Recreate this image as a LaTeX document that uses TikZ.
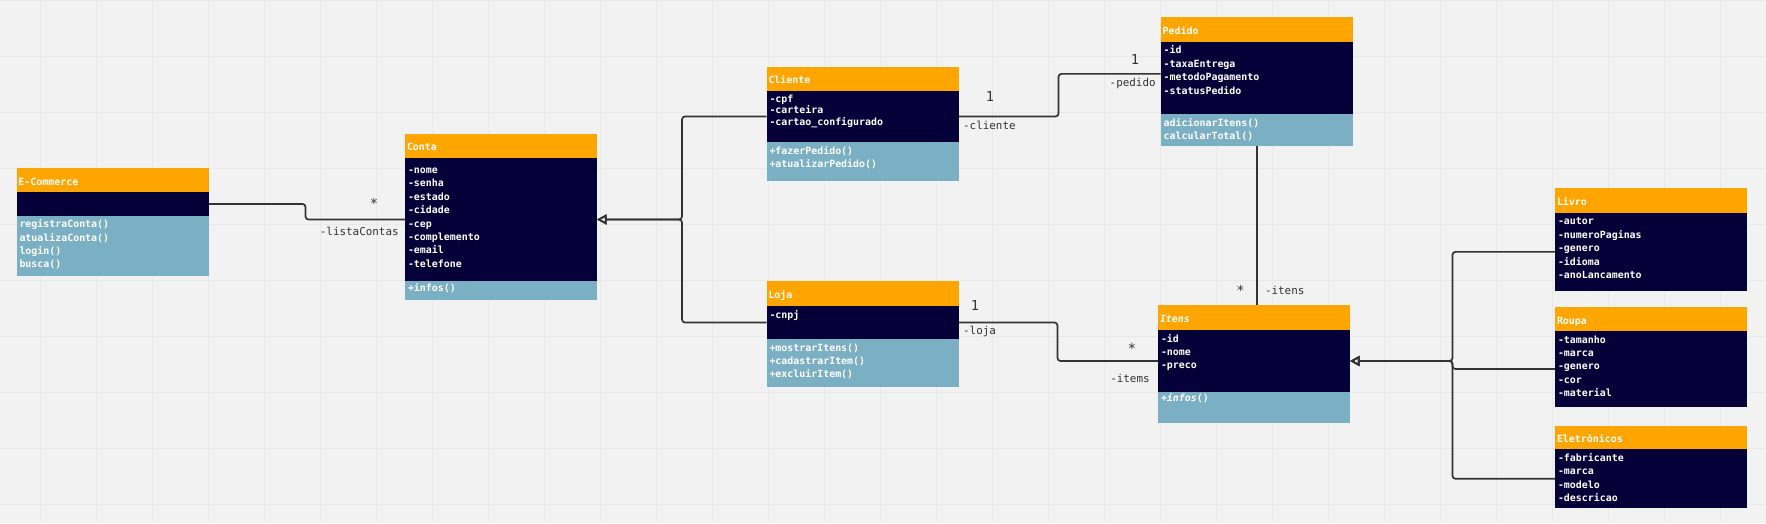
\documentclass[tikz,border=0pt]{standalone}
\usepackage{fontspec}
\usetikzlibrary{positioning, arrows.meta}
\newfontfamily\umlfont{DejaVu Sans Mono}
\newlength{\unitpx}
\setlength{\unitpx}{0.2mm}
\definecolor{headorange}{HTML}{FFA500}
\definecolor{attrnavy}{HTML}{050038}
\definecolor{methblue}{HTML}{7BAFC4}
\definecolor{canvasgray}{HTML}{F2F2F2}
\definecolor{gridgray}{HTML}{E9E9E9}
\definecolor{wire}{HTML}{333333}

\begin{document}
\begin{tikzpicture}[x=0.2mm, y=-0.2mm,
  boxtext/.style={font=\umlfont\bfseries\fontsize{5.65}{7.65}\selectfont, text=white, anchor=north, outer sep=0pt,
    inner xsep=3\unitpx, inner ysep=2\unitpx, text width=186\unitpx, align=left, text height=10\unitpx},
  head/.style={boxtext, fill=headorange, anchor=north west, inner xsep=2\unitpx, text width=188\unitpx,
    minimum height=24\unitpx, text height=1.6ex, text depth=.3ex},
  attrs/.style={boxtext, fill=attrnavy, text depth=#1\unitpx},
  meths/.style={boxtext, fill=methblue, text depth=#1\unitpx},
  assoc/.style={draw=wire, line width=0.34mm, rounded corners=0.6mm},
  gen/.style={assoc, -{Triangle[open, length=1.9mm, width=2mm]}},
  mult/.style={font=\umlfont\fontsize{7.8}{9}\selectfont, text=wire, inner sep=0pt},
  role/.style={font=\umlfont\fontsize{6.2}{7.5}\selectfont, text=wire, inner sep=0pt},
  gridline/.style={draw=gridgray, line width=0.2mm}]

% Canvas
\fill[canvasgray] (0,0) rectangle (1766,523);
\useasboundingbox (0,0) rectangle (1766,523);
\foreach \gx in {0,...,30} {
	\draw[gridline] ({40.5+56*\gx},0) -- ++(0,523);
}
\foreach \gy in {0,...,9} {
	\draw[gridline] (0,{0.7+56*\gy}) -- ++(1766,0);
}

% Classes
\node[head] (ecom) at (16.5,168.3) {E-Commerce};
\node[attrs=9.3, below=0pt of ecom] (ecom-a) {};
\node[meths=46.7, below=0pt of ecom-a] (ecom-m) {registraConta()\\atualizaConta()\\login()\\busca()};

\node[head] (conta) at (405,134) {Conta};
\node[attrs=105.7, text height=13.3\unitpx, below=0pt of conta] (conta-a) {-nome\\-senha\\-estado\\-cidade\\-cep\\-complemento\\-email\\-telefone};
\node[meths=6.6, text height=8\unitpx, below=0pt of conta-a] (conta-m) {+infos()};

\node[head] (cliente) at (766.5,66.7) {Cliente};
\node[attrs=37.6, font=\umlfont\bfseries\fontsize{5.65}{6.4}\selectfont, below=0pt of cliente] (cliente-a) {-cpf\\-carteira\\-cartao\_configurado};
\node[meths=24.7, below=0pt of cliente-a] (cliente-m) {+fazerPedido()\\+atualizarPedido()};

\node[head, minimum height=25.3\unitpx] (loja) at (766.5,280.7) {Loja};
\node[attrs=19, below=0pt of loja] (loja-a) {-cnpj};
\node[meths=33.7, below=0pt of loja-a] (loja-m) {+mostrarItens()\\+cadastrarItem()\\+excluirItem()};

\node[head, minimum height=25\unitpx] (pedido) at (1160.7,16.7) {Pedido};
\node[attrs=58.3, below=0pt of pedido] (pedido-a) {-id\\-taxaEntrega\\-metodoPagamento\\-statusPedido};
\node[meths=18, below=0pt of pedido-a] (pedido-m) {adicionarItens()\\calcularTotal()};

\node[head, minimum height=25\unitpx] (itens) at (1158,305) {\textit{Itens}};
\node[attrs=48, below=0pt of itens] (itens-a) {-id\\-nome\\-preco};
\node[meths=19.3, text height=7.7\unitpx, below=0pt of itens-a] (itens-m) {+\textit{infos}()};

\node[head, minimum height=24.4\unitpx] (livro) at (1555,188.3) {Livro};
\node[attrs=64.3, below=0pt of livro] (livro-a) {-autor\\-numeroPaginas\\-genero\\-idioma\\-anoLancamento};

\node[head, minimum height=23.7\unitpx] (roupa) at (1555,307.3) {Roupa};
\node[attrs=62, below=0pt of roupa] (roupa-a) {-tamanho\\-marca\\-genero\\-cor\\-material};

\node[head, minimum height=23.3\unitpx] (eletro) at (1555,426) {Eletrônicos};
\node[attrs=45, below=0pt of eletro] (eletro-a) {-fabricante\\-marca\\-modelo\\-descricao};

% Associations
\draw[assoc] (ecom-a.east) -- ++(97,0) |- (conta-a.west);
\draw[assoc] (cliente-a.east) -- ++(100,0) |- ([yshift=0.8mm]pedido-a.west);
\draw[assoc] (loja-a.east) -- ++(99,0) |- (itens-a.west);
\draw[assoc] (pedido-m.south) -- (pedido-m.south |- itens.north);

% Generalisations
\foreach \sub in {cliente, loja} {
	\draw[gen] (\sub-a.west) -- ++(-84.5,0) |- (conta-a.east);
}
\foreach \sub in {livro, roupa, eletro} {
	\draw[gen] (\sub-a.west) -- ++(-102.5,0) |- (itens-a.east);
}

% Multiplicities and roles
\node[mult] (lc-mult) at (374,203) {*};
\node[role, anchor=east] (lc-role) at (399,231.7) {-listaContas};
\node[mult] (cl-mult) at (990,96.7) {1};
\node[role, anchor=west] (cl-role) at (962.8,125.3) {-cliente};
\node[mult] (pd-mult) at (1135,60) {1};
\node[role, anchor=east] (pd-role) at (1156,83.3) {-pedido};
\node[mult] (lj-mult) at (975,305) {1};
\node[role, anchor=west] (lj-role) at (962.8,331) {-loja};
\node[mult] (im-mult) at (1132,348) {*};
\node[role, anchor=east] (im-role) at (1150,378) {-items};
\node[mult] (it-mult) at (1240.4,290.7) {*};
\node[role, anchor=west] (it-role) at (1264.7,290) {-itens};
\end{tikzpicture}
\end{document}
